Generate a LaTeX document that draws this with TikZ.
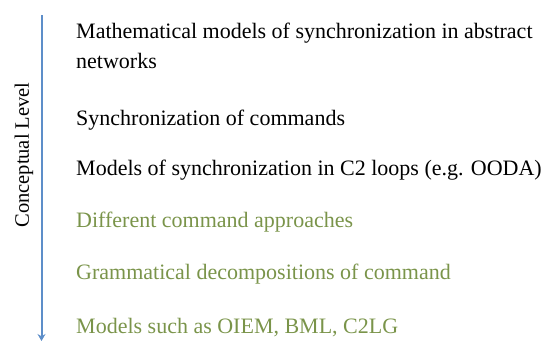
\documentclass[tikz,border=0pt]{standalone}
\usepackage{fontspec}
\setmainfont{Liberation Serif}
\usetikzlibrary{positioning,
                arrows.meta}
\definecolor{levelblue}{RGB}{93,142,201}
\definecolor{itemgreen}{RGB}{122,148,74}

\begin{document}
\begin{tikzpicture}[x=1pt,y=1pt,
    item/.style={inner sep=0pt, font=\fontsize{22}{29.5}\selectfont, align=left}]
    \useasboundingbox (0,0) rectangle (542,-341);

    % Achse
    \coordinate (top) at (41.5,-15);
    \coordinate (bottom) at (41.5,-341);
    \draw[levelblue, line width=2pt, -{Stealth[length=7pt,width=8pt]}] (top) -- (bottom);
    \node[inner sep=0pt, font=\fontsize{20.5}{24}\selectfont, rotate=90] (level) at (24,-155) {Conceptual Level};

    % Punkte
    \node[item, anchor=base west] (m1) at (76,-68) {Mathematical models of synchronization in abstract\\networks};
    \node[item, below=57pt of m1.base west, anchor=base west] (m2) {Synchronization of commands};
    \node[item, below=50pt of m2.base west, anchor=base west] (m3) {Models of synchronization in C2 loops (e.g. OODA)};
    \node[item, itemgreen, below=52pt of m3.base west, anchor=base west] (m4) {Different command approaches};
    \node[item, itemgreen, below=52pt of m4.base west, anchor=base west] (m5) {Grammatical decompositions of command};
    \node[item, itemgreen, below=54pt of m5.base west, anchor=base west] (m6) {Models such as OIEM, BML, C2LG};

\end{tikzpicture}
\end{document}
